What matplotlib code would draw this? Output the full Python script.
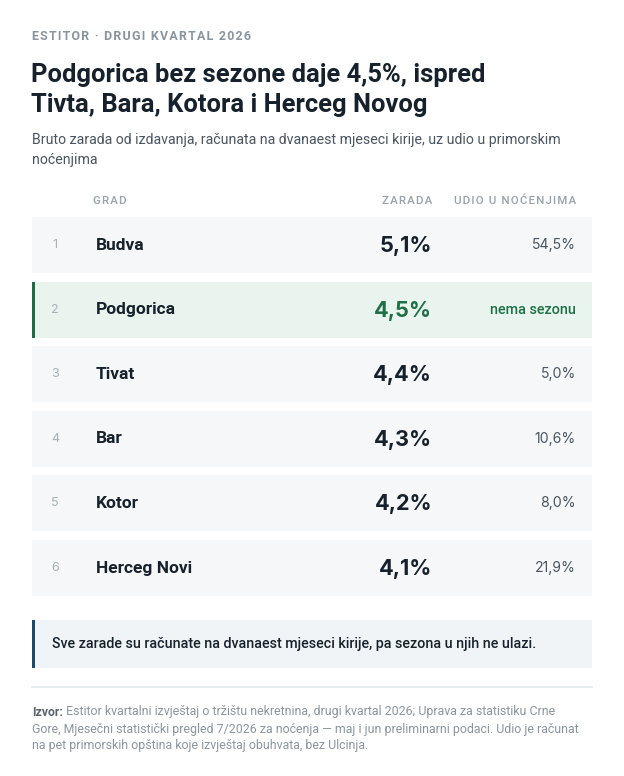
import matplotlib
matplotlib.use("Agg")
import matplotlib.pyplot as plt
from matplotlib.patches import Rectangle

plt.rcParams['font.family'] = ['Roboto', 'DejaVu Sans']

# ---- data ----
kicker = "ESTITOR · DRUGI KVARTAL 2026"
title_lines = ["Podgorica bez sezone daje 4,5%, ispred", "Tivta, Bara, Kotora i Herceg Novog"]
subtitle_lines = ["Bruto zarada od izdavanja, računata na dvanaest mjeseci kirije, uz udio u primorskim",
                  "noćenjima"]
headers = ["GRAD", "ZARADA", "UDIO U NOĆENJIMA"]
ranks = [1, 2, 3, 4, 5, 6]
cities = ["Budva", "Podgorica", "Tivat", "Bar", "Kotor", "Herceg Novi"]
zarada = ["5,1%", "4,5%", "4,4%", "4,3%", "4,2%", "4,1%"]
udio = ["54,5%", "nema sezonu", "5,0%", "10,6%", "8,0%", "21,9%"]
highlight = "Podgorica"
note = "Sve zarade su računate na dvanaest mjeseci kirije, pa sezona u njih ne ulazi."
source_bold = "Izvor:"
source_lines = [" Estitor kvartalni izvještaj o tržištu nekretnina, drugi kvartal 2026; Uprava za statistiku Crne",
                "Gore, Mjesečni statistički pregled 7/2026 za noćenja — maj i jun preliminarni podaci. Udio je računat",
                "na pet primorskih opština koje izvještaj obuhvata, bez Ulcinja."]

W, H = 624, 776
fig = plt.figure(figsize=(W / 100, H / 100), dpi=100)
fig.patch.set_facecolor("white")
ax = fig.add_axes([0, 0, 1, 1])
ax.set_xlim(0, W)
ax.set_ylim(H, 0)
ax.axis("off")
renderer = fig.canvas.get_renderer()

NUMFONT = ['Inter', 'DejaVu Sans']


def spaced(s, sep="\u200a"):
    return sep.join(list(s))


def fit_size(s, target_px, weight="normal", family=None):
    kw = {"family": family} if family else {}
    t = ax.text(0, 0, s, fontsize=10, fontweight=weight, **kw)
    w = t.get_window_extent(renderer=renderer).width
    t.remove()
    return 10 * target_px / w


DARK = "#17212b"
GRAY = "#4a5560"
LIGHT = "#8c959e"
GREEN = "#1f7048"
HDR = "#98a1a9"

ks = fit_size(spaced(kicker), 217, "bold")
ax.text(32, 37, spaced(kicker), fontsize=ks, fontweight="bold", color="#8a949d", va="center", ha="left")

ts = fit_size(title_lines[0], 454, "bold")
for i, t in enumerate(title_lines):
    ax.text(31, 75 + i * 30, t, fontsize=ts, fontweight="bold", color=DARK, va="center", ha="left")

ss = fit_size(subtitle_lines[0], 530)
for i, t in enumerate(subtitle_lines):
    ax.text(32, 140 + i * 20, t, fontsize=ss, color=GRAY, va="center", ha="left")

hs = fit_size(spaced(headers[2]), 122, "medium")
hy = 201
ax.text(93, hy, spaced(headers[0]), fontsize=hs, fontweight="medium", color=HDR, va="center", ha="left")
ax.text(432, hy, spaced(headers[1]), fontsize=hs, fontweight="medium", color=HDR, va="center", ha="right")
ax.text(576, hy, spaced(headers[2]), fontsize=hs, fontweight="medium", color=HDR, va="center", ha="right")

cs = fit_size("Podgorica", 80, "bold")
zs = fit_size("4,1%", 53, "bold", NUMFONT)
us = fit_size("21,9%", 41, "normal", NUMFONT)
ns = fit_size("nema sezonu", 86, "medium")

row_top0 = 217
pitch = 64.6
row_h = 56
for i, (r, c, z, u) in enumerate(zip(ranks, cities, zarada, udio)):
    top = row_top0 + i * pitch
    cy = top + row_h / 2
    hl = (c == highlight)
    ax.add_patch(Rectangle((32, top), 560, row_h, facecolor="#e9f4ee" if hl else "#f5f7f9",
                           edgecolor="none"))
    if hl:
        ax.add_patch(Rectangle((32, top), 3, row_h, facecolor="#1e6b45", edgecolor="none"))
    ax.text(55, cy, str(r), fontsize=9, color="#a8b0b7", va="center", ha="center", family=NUMFONT)
    ax.text(96, cy, c, fontsize=cs, fontweight="bold", color=DARK, va="center", ha="left")
    ax.text(432, cy + 1, z, fontsize=zs, fontweight="bold", color=GREEN if hl else DARK,
            va="center", ha="right", family=NUMFONT)
    if hl:
        ax.text(576, cy, u, fontsize=ns, fontweight="medium", color=GREEN, va="center", ha="right")
    else:
        ax.text(576, cy, u, fontsize=us, color=GRAY, va="center", ha="right", family=NUMFONT)

# note box
ax.add_patch(Rectangle((32, 620), 560, 48, facecolor="#f1f4f7", edgecolor="none"))
ax.add_patch(Rectangle((32, 620), 3, 48, facecolor="#1d4a6c", edgecolor="none"))
nts = fit_size(note, 483, "medium")
ax.text(52, 644, note, fontsize=nts, fontweight="medium", color=DARK, va="center", ha="left")

# separator
ax.plot([32, 592], [687, 687], color="#e4e8eb", lw=1.2)

# source
srs = fit_size(source_lines[1], 548)
t0 = ax.text(32, 712, source_bold, fontsize=srs, fontweight="bold", color="#5a646e", va="center", ha="left")
bb = t0.get_window_extent(renderer=renderer)
xd = ax.transData.inverted().transform((bb.x1, 0))[0]
ax.text(xd, 712, source_lines[0], fontsize=srs, color=LIGHT, va="center", ha="left")
for i, t in enumerate(source_lines[1:]):
    ax.text(32, 729 + i * 17, t, fontsize=srs, color=LIGHT, va="center", ha="left")

fig.savefig("out.png", dpi=100, facecolor="white")
